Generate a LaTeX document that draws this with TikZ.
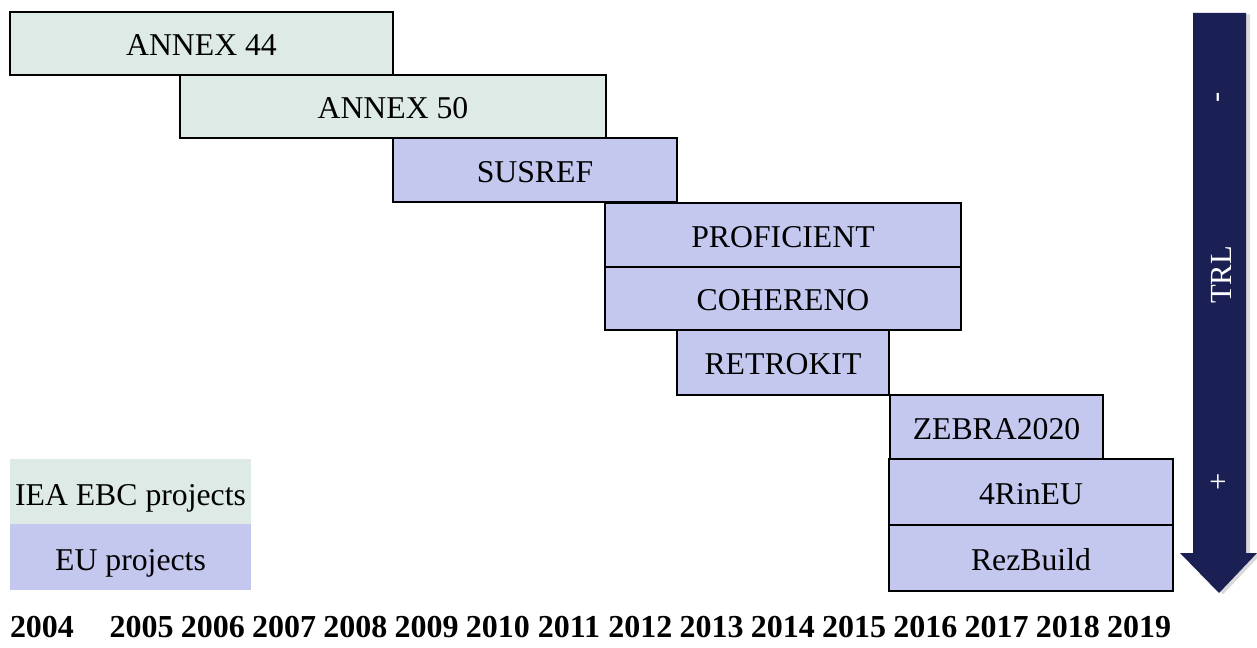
\documentclass[tikz,border=0pt]{standalone}
\usepackage{fontspec}
\setmainfont{Liberation Serif}
\usepackage{tikz}
\usetikzlibrary{shadows}

\definecolor{ieagreen}{RGB}{221,234,230}
\definecolor{eublue}{RGB}{196,200,238}
\definecolor{trlnavy}{RGB}{26,32,84}

\tikzset{
  iea/.style={fill=ieagreen, draw=black, line width=1.6pt},
  eu/.style={fill=eublue, draw=black, line width=1.6pt},
  label/.style={font=\fontsize{23.8}{28}\selectfont, inner sep=0pt, anchor=base},
  year/.style={font=\fontsize{24}{28}\selectfont\bfseries, inner sep=0pt, anchor=base},
  trl/.style={font=\fontsize{23}{27}\selectfont, text=white, rotate=90, inner sep=0pt}
}

\begin{document}
\begin{tikzpicture}[x=0.75pt, y=-0.75pt]
      \useasboundingbox (0, 0) rectangle (1257, 648);

      % TRL arrow
      \fill[trlnavy, drop shadow={shadow xshift=3pt, shadow yshift=-1pt, opacity=0.3}]
        (1193, 13) -- (1246, 13) -- (1246, 553) -- (1257, 553)
        -- (1219, 593) -- (1180, 553) -- (1193, 553) -- cycle;
      \node[trl] (minus) at (1221, 97) {-};
      \node[trl] (trllabel) at (1221, 275) {TRL};
      \node[trl] (plus) at (1220, 482) {+};

      % IEA EBC annexes
      \draw[iea] (10, 12) rectangle (393, 75);
      \node[label] (annex44) at (201.5, 56) {ANNEX 44};
      \draw[iea] (180, 75) rectangle (606, 138);
      \node[label] (annex50) at (393, 119) {ANNEX 50};

      % EU projects
      \draw[eu] (393, 138) rectangle (677, 202);
      \node[label] (susref) at (535, 182.5) {SUSREF};
      \draw[eu] (605, 203) rectangle (961, 267);
      \node[label] (proficient) at (783, 247.5) {PROFICIENT};
      \draw[eu] (605, 267) rectangle (961, 330);
      \node[label] (cohereno) at (783, 311) {COHERENO};
      \draw[eu] (677, 330) rectangle (889, 395);
      \node[label] (retrokit) at (783, 375) {RETROKIT};
      \draw[eu] (890, 395) rectangle (1103, 459);
      \node[label] (zebra) at (996.5, 440) {ZEBRA2020};
      \draw[eu] (889, 459) rectangle (1173, 525);
      \node[label] (fourrineu) at (1031, 504.5) {4RinEU};
      \draw[eu] (889, 525) rectangle (1173, 591);
      \node[label] (rezbuild) at (1031, 570.5) {RezBuild};

      % legend
      \fill[ieagreen] (10, 459) rectangle (251, 524);
      \node[label] (legiea) at (130.5, 505) {IEA EBC projects};
      \fill[eublue] (10, 524) rectangle (251, 590);
      \node[label] (legeu) at (130.5, 570) {EU projects};

      % years
      \node[year] (y2004) at (42, 637) {2004};
      \node[year] (y2005) at (141.5, 637) {2005};
      \node[year] (y2006) at (212.75, 637) {2006};
      \node[year] (y2007) at (284, 637) {2007};
      \node[year] (y2008) at (355.25, 637) {2008};
      \node[year] (y2009) at (426.5, 637) {2009};
      \node[year] (y2010) at (497.75, 637) {2010};
      \node[year] (y2011) at (569, 637) {2011};
      \node[year] (y2012) at (640.25, 637) {2012};
      \node[year] (y2013) at (711.5, 637) {2013};
      \node[year] (y2014) at (782.75, 637) {2014};
      \node[year] (y2015) at (854, 637) {2015};
      \node[year] (y2016) at (925.25, 637) {2016};
      \node[year] (y2017) at (996.5, 637) {2017};
      \node[year] (y2018) at (1067.75, 637) {2018};
      \node[year] (y2019) at (1139, 637) {2019};
\end{tikzpicture}
\end{document}
